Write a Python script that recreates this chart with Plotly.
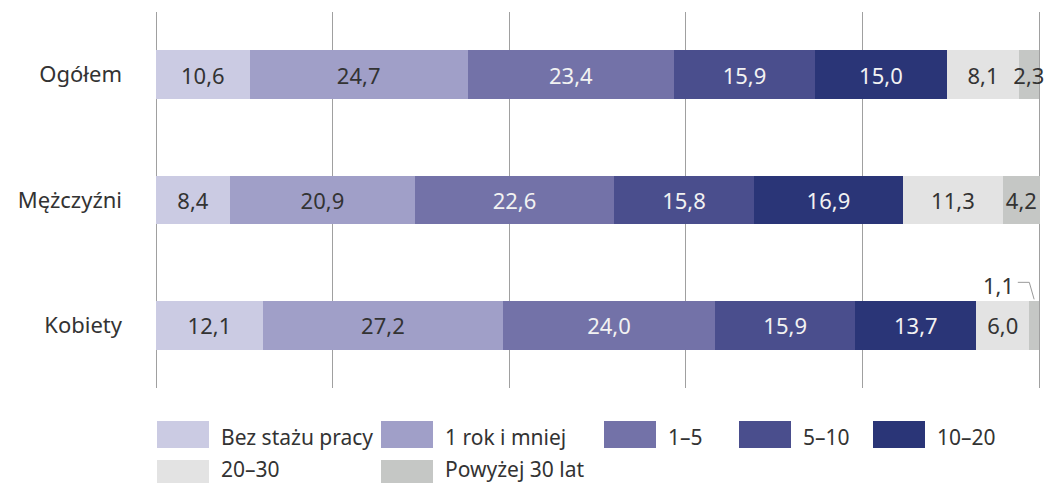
import plotly.graph_objects as go

categories = ["Ogółem", "Mężczyźni", "Kobiety"]
series_names = ["Bez stażu pracy", "1 rok i mniej", "1–5", "5–10", "10–20", "20–30", "Powyżej 30 lat"]
bez_stazu = [10.6, 8.4, 12.1]
rok_i_mniej = [24.7, 20.9, 27.2]
lat_1_5 = [23.4, 22.6, 24.0]
lat_5_10 = [15.9, 15.8, 15.9]
lat_10_20 = [15.0, 16.9, 13.7]
lat_20_30 = [8.1, 11.3, 6.0]
powyzej_30 = [2.3, 4.2, 1.1]

series_values = [bez_stazu, rok_i_mniej, lat_1_5, lat_5_10, lat_10_20, lat_20_30, powyzej_30]
colors = ["#cbcbe3", "#a09fc8", "#7372a8", "#4a4e8d", "#2a3577", "#e3e3e3", "#c5c7c5"]
text_colors = ["#333333", "#333333", "#f2f2f2", "#f2f2f2", "#f2f2f2", "#333333", "#333333"]
FONT = "Noto Sans, Open Sans, sans-serif"
LABEL_SIZE = 22


def fmt(v):
    return f"{v:.1f}".replace(".", ",")


fig = go.Figure()
for i, (name, vals) in enumerate(zip(series_names, series_values)):
    texts = [fmt(v) for v in vals]
    if i == len(series_names) - 1:
        texts[2] = ""  # shown as callout
    fig.add_trace(go.Bar(
        y=categories, x=vals, orientation="h", name=name,
        marker=dict(color=colors[i], line=dict(width=0)),
        text=texts, textposition="inside", insidetextanchor="middle",
        constraintext="none", textangle=0,
        textfont=dict(family=FONT, size=LABEL_SIZE, color=text_colors[i]),
        width=0.39, showlegend=False, hoverinfo="skip",
    ))

# plot area in pixels (100 % lands at x=1039, plot area extends to the right edge)
FIG_W, FIG_H = 1049, 483
L, T, H = 156, 12, 376
X100 = 1039
W = FIG_W - L
x_max = 100 * W / (X100 - L)


def px_x(px):
    return (px - L) / W


def px_y(py):
    return (T + H - py) / H


shapes = []
annotations = []
# custom legend
legend_pos = [(157, 0), (381, 0), (604, 0), (739, 0), (873, 0), (157, 1), (381, 1)]
row_top = [421, 460]
row_text_center = [437, 469]
sw_w, sw_h = 52, 27
for i, name in enumerate(series_names):
    lx, r = legend_pos[i]
    top = row_top[r]
    shapes.append(dict(type="rect", xref="paper", yref="paper",
                       x0=px_x(lx), x1=px_x(lx + sw_w), y0=px_y(min(top + sw_h, FIG_H)), y1=px_y(top),
                       fillcolor=colors[i], line=dict(width=0), layer="above"))
    annotations.append(dict(xref="paper", yref="paper", x=px_x(lx + sw_w + 10),
                            y=px_y(row_text_center[r]), text=name, showarrow=False,
                            xanchor="left", yanchor="middle",
                            font=dict(family=FONT, size=21, color="#333333")))

# callout for the small Kobiety segment
k_end = sum(v[2] for v in series_values[:-1])
k_mid = k_end + powyzej_30[2] / 2
annotations.append(dict(x=k_end - 3.5, y=2, xref="x", yref="y", yshift=40,
                        text=fmt(powyzej_30[2]), showarrow=False,
                        font=dict(family=FONT, size=LABEL_SIZE, color="#333333")))
shapes.append(dict(type="path", xref="x", yref="y", ysizemode="pixel", yanchor=2,
                   path=f"M {k_end - 1.3},43 L {k_end},43 L {k_mid},26",
                   line=dict(color="#999999", width=1)))

fig.update_layout(
    width=FIG_W, height=FIG_H,
    margin=dict(l=L, r=0, t=T, b=FIG_H - T - H),
    barmode="stack",
    plot_bgcolor="white", paper_bgcolor="white",
    font=dict(family=FONT, size=LABEL_SIZE, color="#333333"),
    shapes=shapes, annotations=annotations,
    xaxis=dict(range=[0, x_max], tickvals=[0, 20, 40, 60, 80, 100], showgrid=True,
               gridcolor="#a0a0a0", gridwidth=1, zeroline=True, zerolinecolor="#a0a0a0",
               zerolinewidth=1, showticklabels=False, showline=False, ticks="", fixedrange=True),
    yaxis=dict(type="category", autorange=False, range=[2.5, -0.5], showgrid=False,
               showline=False, zeroline=False, ticks="", ticklabelstandoff=33,
               tickfont=dict(family=FONT, size=LABEL_SIZE, color="#333333"), fixedrange=True),
)

fig.write_html("out.html", config={"displayModeBar": False},
               post_script="document.body.style.margin='0';document.body.style.overflow='hidden';")
